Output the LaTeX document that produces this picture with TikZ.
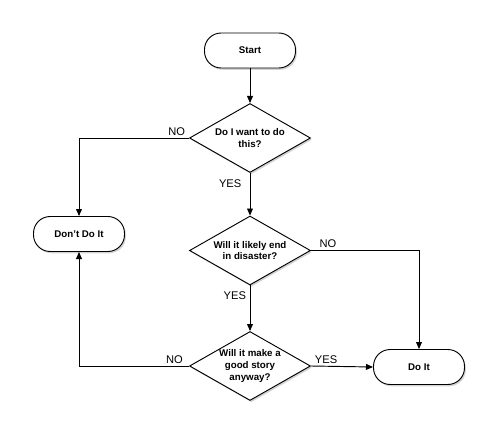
\documentclass[tikz,border=0pt]{standalone}
\usepackage{fontspec}
\setmainfont{Liberation Sans}
\usetikzlibrary{arrows.meta,shapes.geometric,shadows}

\begin{document}
\begin{tikzpicture}[x=0.03cm,y=-0.03cm,
    term/.style={rectangle,rounded corners=0.5cm,draw,fill=white,line width=0.8pt,
      minimum width=2.73cm,minimum height=1.05cm,font=\fontsize{8.3}{10}\selectfont\bfseries,
      drop shadow={shadow xshift=1.2pt,shadow yshift=-1.5pt,opacity=0.35}},
    test/.style={diamond,aspect=1.75,draw,fill=white,line width=0.8pt,
      inner xsep=0pt,inner ysep=-3pt,align=center,
      minimum width=3.63cm,minimum height=2.07cm,font=\fontsize{8.3}{10.2}\selectfont\bfseries,
      drop shadow={shadow xshift=1.2pt,shadow yshift=-1.5pt,opacity=0.35}},
    arr/.style={-{Triangle[length=6pt,width=5pt]},line width=0.8pt},
    lbl/.style={font=\fontsize{9.5}{11}\selectfont,inner sep=1pt}]
  \useasboundingbox (0,0) rectangle (499,444);
  % nodes
  \node[term] (start) at (250,50.5) {Start};
  \node[test] (want) at (250,138) {Do I want to do\\this?};
  \node[term] (dont) at (79,234) {Don't Do It};
  \node[test] (disaster) at (250,250.5) {Will it likely end\\in disaster?};
  \node[test] (story) at (250,366) {Will it make a\\good story\\anyway?};
  \node[term] (doit) at (419,367) {Do It};
  % connectors
  \draw[arr] (start) -- (want);
  \draw[arr] (want.west) node[lbl,anchor=south east,xshift=-2pt,yshift=1pt] {NO} -| (dont.north);
  \draw[arr] (want.south) node[lbl,anchor=north east,xshift=-6pt,yshift=-4pt] {YES} -- (disaster.north);
  \draw[arr] (disaster.east) node[lbl,anchor=south west,xshift=6pt,yshift=1pt] {NO} -| (doit.north);
  \draw[arr] (disaster.south) node[lbl,anchor=north east,xshift=-2pt,yshift=-4pt] {YES} -- (story.north);
  \draw[arr] (story.west) node[lbl,anchor=south east,xshift=-4pt,yshift=1pt] {NO} -| (dont.south);
  \draw[arr] (story.east) node[lbl,anchor=south west,xshift=2pt,yshift=1pt] {YES} -- (doit.west);
\end{tikzpicture}
\end{document}
